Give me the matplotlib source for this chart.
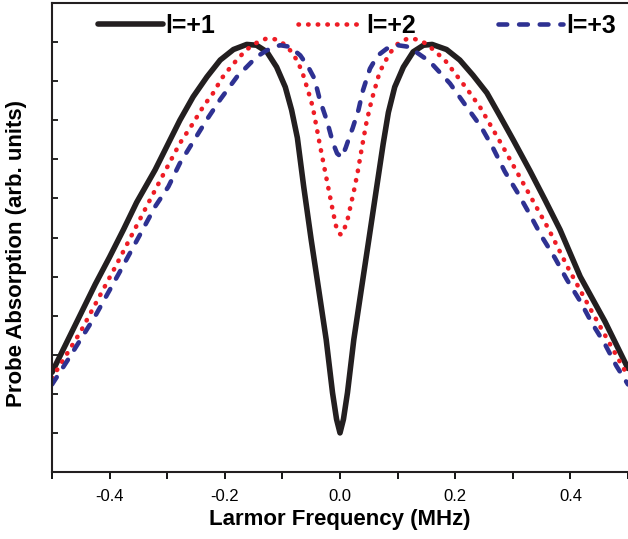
import matplotlib
matplotlib.use("Agg")
import matplotlib.pyplot as plt
from matplotlib.ticker import MultipleLocator

plt.rcParams['font.family'] = ['Liberation Sans', 'DejaVu Sans']

# values (y in arbitrary units, 0..12)
x_l1 = [-0.5, -0.45, -0.425, -0.4, -0.376, -0.353, -0.321, -0.3, -0.278,
        -0.255, -0.231, -0.208, -0.185, -0.162, -0.145, -0.127, -0.11,
        -0.095, -0.084, -0.074, -0.063, -0.05, -0.037, -0.024, -0.013,
        -0.006, 0.0, 0.006, 0.013, 0.024, 0.037, 0.05, 0.063, 0.075,
        0.084, 0.095, 0.11, 0.127, 0.145, 0.16, 0.185, 0.208, 0.231,
        0.255, 0.278, 0.301, 0.33, 0.356, 0.382, 0.417, 0.46, 0.5]
y_l1 = [2.55, 4.05, 4.8, 5.5, 6.2, 6.9, 7.73, 8.35, 9.0,
        9.6, 10.11, 10.54, 10.81, 10.94, 10.92, 10.75, 10.36,
        9.85, 9.26, 8.55, 7.3, 5.94, 4.67, 3.39, 2.03,
        1.35, 1.0, 1.35, 2.03, 3.39, 4.67, 5.94, 7.22, 8.4,
        9.2, 9.85, 10.36, 10.75, 10.92, 10.94, 10.81, 10.54, 10.15,
        9.7, 9.1, 8.49, 7.7, 6.96, 6.2, 5.0, 3.85, 2.65]

x_l2 = [-0.5, -0.45, -0.425, -0.39, -0.356, -0.33, -0.304, -0.278, -0.257,
        -0.237, -0.22, -0.205, -0.191, -0.177, -0.162, -0.145, -0.128,
        -0.111, -0.094, -0.081, -0.072, -0.065, -0.06, -0.055, -0.05,
        -0.046, -0.043, -0.04, -0.036, -0.03, -0.024, -0.018, -0.012,
        -0.007, -0.003, 0.002, 0.007, 0.013, 0.019, 0.025, 0.031, 0.038,
        0.046, 0.055, 0.069, 0.086, 0.1, 0.117, 0.133, 0.15, 0.182,
        0.22, 0.243, 0.281, 0.318, 0.362, 0.396, 0.44, 0.5]
y_l2 = [2.4, 3.6, 4.29, 5.25, 6.22, 6.96, 7.69, 8.41, 8.88,
        9.36, 9.7, 10.08, 10.34, 10.58, 10.81, 10.98, 11.09,
        11.07, 10.92, 10.69, 10.45, 10.21, 9.97, 9.73, 9.49,
        9.24, 9.0, 8.77, 8.45, 8.0, 7.55, 7.1, 6.65,
        6.3, 6.12, 6.07, 6.2, 6.45, 6.85, 7.25, 7.7, 8.3,
        8.95, 9.52, 10.24, 10.71, 10.95, 11.09, 11.07, 10.96, 10.54,
        9.81, 9.34, 8.37, 7.39, 6.22, 5.22, 4.03, 2.45]

x_l3 = [-0.5, -0.472, -0.425, -0.385, -0.344, -0.321, -0.298, -0.278, -0.255,
        -0.231, -0.208, -0.179, -0.145, -0.127, -0.104, -0.087, -0.069,
        -0.055, -0.046, -0.04, -0.035, -0.023, -0.012, -0.005, 0.003,
        0.01, 0.017, 0.022, 0.032, 0.04, 0.052, 0.065, 0.081, 0.1,
        0.119, 0.156, 0.191, 0.22, 0.245, 0.266, 0.286, 0.309, 0.33,
        0.35, 0.373, 0.394, 0.417, 0.437, 0.46, 0.48, 0.5]
y_l3 = [2.24, 2.88, 3.99, 5.05, 6.16, 6.79, 7.3, 7.9, 8.45,
        9.02, 9.53, 10.11, 10.62, 10.79, 10.92, 10.88, 10.66,
        10.36, 10.11, 9.81, 9.52, 9.0, 8.41, 8.15, 8.05,
        8.3, 8.6, 8.8, 9.26, 9.77, 10.32, 10.65, 10.83, 10.92,
        10.88, 10.5, 9.94, 9.34, 8.83, 8.28, 7.69, 7.13, 6.58,
        6.03, 5.48, 4.92, 4.37, 3.82, 3.27, 2.71, 2.24]

labels = ["l=+1", "l=+2", "l=+3"]
tick_pos = [-0.4, -0.2, 0.0, 0.2, 0.4]
tick_text = ["-0.4", "-0.2", "0.0", "0.2", "0.4"]

fig = plt.figure(figsize=(6.28, 5.39), dpi=100)
ax = fig.add_axes([52 / 628, 67 / 539, 576 / 628, 469 / 539])

ax.plot(x_l1, y_l1, color="#231f20", lw=4.0, solid_capstyle="round",
        solid_joinstyle="round", label=labels[0])
ax.plot(x_l2, y_l2, color="#ee1c25", lw=3.3, linestyle=(0, (0.1, 2.0)),
        dash_capstyle="round", label=labels[1])
ax.plot(x_l3, y_l3, color="#2e3192", lw=3.3, linestyle=(0, (1.9, 2.6)),
        dash_capstyle="round", label=labels[2])

ax.set_xlim(-0.5, 0.5)
ax.set_ylim(0, 12)
ax.xaxis.set_minor_locator(MultipleLocator(0.1))
ax.yaxis.set_major_locator(MultipleLocator(1))
ax.set_xticks(tick_pos)
ax.set_xticklabels(tick_text)
ax.tick_params(axis="x", which="both", direction="out", length=5, width=1.3,
               labelsize=12, pad=7)
ax.tick_params(axis="y", which="both", direction="in", length=4, width=1.2,
               labelleft=False)
ax.spines["right"].set_visible(False)
for s in ["left", "bottom", "top"]:
    ax.spines[s].set_linewidth(1.5)
    ax.spines[s].set_color("#231f20")

ax.set_xlabel("Larmor Frequency (MHz)", fontsize=16, fontweight="bold",
              labelpad=4)
ax.set_ylabel("Probe Absorption (arb. units)", fontsize=16,
              fontweight="bold")
ax.yaxis.set_label_coords(-0.044, 0.465)

ax.legend(loc="upper left", bbox_to_anchor=(0.04, 1.025), ncol=3,
          frameon=False, handlelength=2.6, handletextpad=0.12,
          columnspacing=3.3, prop={"weight": "bold", "size": 18})

fig.savefig("out.png", dpi=100)
